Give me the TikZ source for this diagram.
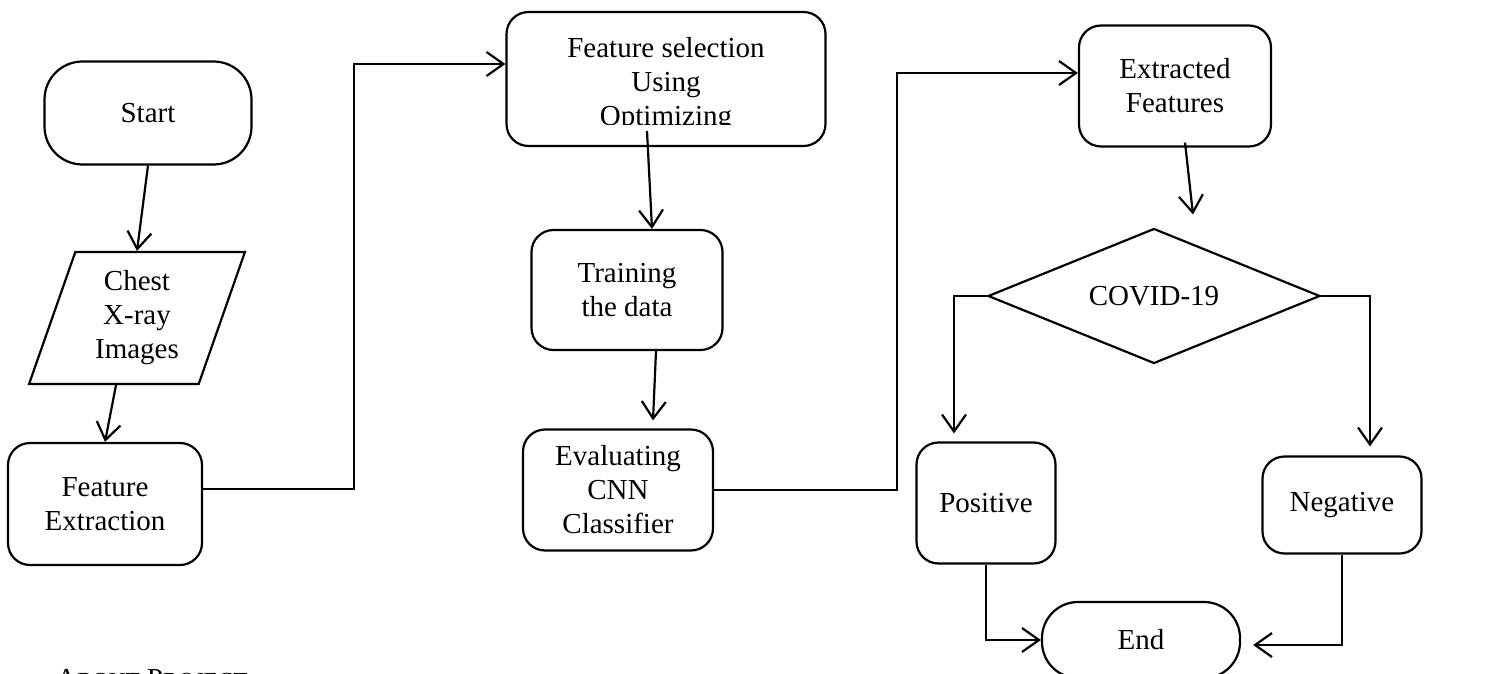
\documentclass[tikz,border=0pt]{standalone}
\usepackage{fontspec}
\setmainfont{Liberation Serif}
\usetikzlibrary{arrows.meta,shapes.geometric}

\begin{document}
\begin{tikzpicture}[x=1pt,y=-1pt,line width=2.2pt, every node/.style={font=\fontsize{29}{34}\selectfont, align=center, inner sep=0pt}]
\tikzset{term/.style = {shape=rectangle, draw, rounded corners=38pt, minimum width=207pt, minimum height=103pt}}
\tikzset{proc/.style = {shape=rectangle, draw, rounded corners=22pt}}
\tikzset{io/.style = {trapezium, draw, trapezium left angle=71.6, trapezium right angle=108.4, trapezium stretches=true, minimum width=216pt, minimum height=132pt}}
\tikzset{decision/.style = {diamond, draw, shape aspect=2.46, minimum width=332pt, minimum height=135pt}}
\tikzset{edge/.style = {line width=2.2pt, -{Straight Barb[length=17pt,width=24pt]}}}
\useasboundingbox (0,0) rectangle (1512,674);
\clip (0,0) rectangle (1512,674);
% column 1
\node[term] (start) at (148,113) {Start};
\node[io] (chest) at (137,318) {Chest\\X-ray\\Images};
\node[proc, minimum width=194pt, minimum height=122pt] (fext) at (105,504) {Feature\\Extraction};
% column 2
\node[proc, minimum width=319pt, minimum height=134pt] (fsel) at (666,79) {};
\begin{scope}
\clip (510,14) rectangle (823,125);
\node (fseltxt) at (666,85) {Feature selection\\Using\\Optimizing};
\end{scope}
\node[proc, minimum width=191pt, minimum height=120pt] (train) at (627,290) {Training\\the data};
\node[proc, minimum width=190pt, minimum height=121pt] (eval) at (618,490) {Evaluating\\CNN\\Classifier};
% column 3
\node[proc, minimum width=192pt, minimum height=121pt] (xfeat) at (1175,86) {Extracted\\Features};
\node[decision] (covid) at (1154,296) {COVID-19};
\node[proc, minimum width=139pt, minimum height=121pt] (pos) at (986,503) {Positive};
\node[proc, minimum width=159pt, minimum height=97pt] (neg) at (1342,505) {Negative};
\node[term, rounded corners=36pt, minimum width=198pt, minimum height=76pt] (stop) at (1141,640) {End};
% caption
\node[anchor=base west] (about) at (55,688) {A{\fontsize{23}{26}\selectfont BOUT} P{\fontsize{23}{26}\selectfont ROJECT}};
%edges
\draw[edge] (start.south) -- (chest.north);
\draw[edge] ([xshift=-21pt]chest.south) -- (fext.north);
\draw[edge] ([yshift=15pt]fext.east) -- ++(151,0) |- ([yshift=15pt]fsel.west);
\draw[edge] ([xshift=-19pt,yshift=16pt]fsel.south) -- ([xshift=25pt]train.north);
\draw[edge] ([xshift=29pt]train.south) -- ([xshift=35pt,yshift=8pt]eval.north);
\draw[edge] (eval.east) -- ++(183,0) |- ([yshift=13pt]xfeat.west);
%edges 3
\draw[edge] ([xshift=10pt,yshift=5pt]xfeat.south) -- ([xshift=39pt,yshift=13pt]covid.north);
\draw[edge] (covid.west) -| ([xshift=-32pt,yshift=8pt]pos.north);
\draw[edge] (covid.east) -| ([xshift=28pt,yshift=9pt]neg.north);
\draw[edge] (pos.south) |- (stop.west);
\draw[edge] (neg.south) |- ([xshift=12pt,yshift=-5pt]stop.east);
\end{tikzpicture}
\end{document}
